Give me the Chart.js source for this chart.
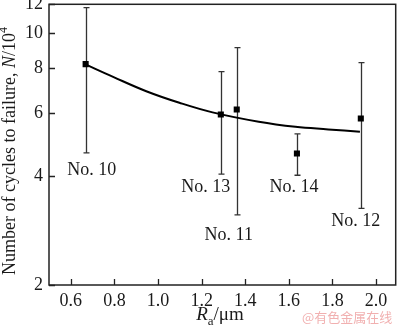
<!DOCTYPE html>
<html>
<head>
<meta charset="utf-8">
<script src="https://cdn.jsdelivr.net/npm/chart.js@4/dist/chart.umd.min.js"></script>
<style>
  html, body { margin: 0; padding: 0; background: #fff; }
  canvas { display: block; }
</style>
</head>
<body>
<canvas id="fatigue" width="400" height="327"></canvas>
<script>
// surface roughness Ra (um) and mean fatigue life (x 10^4 cycles)
var roughness = [0.668, 1.288, 1.361, 1.637, 1.930];
var cycles = [8.19, 5.94, 6.13, 4.63, 5.79];
var cyclesHigh = [11.75, 7.81, 9.10, 5.25, 8.27];
var cyclesLow = [4.65, 4.06, 3.13, 4.03, 3.26];
var specimens = ['No. 10', 'No. 13', 'No. 11', 'No. 14', 'No. 12'];

// fitted trend line
var fitRoughness = [0.665, 0.794, 0.946, 1.098, 1.250, 1.462, 1.630, 1.781, 1.926];
var fitCycles = [8.19, 7.55, 6.89, 6.40, 6.02, 5.67, 5.49, 5.40, 5.32];

var xTicks = [0.6, 0.8, 1.0, 1.2, 1.4, 1.6, 1.8, 2.0];
var yTicks = [2, 4, 6, 8, 10, 12];

// label placement, px from the point x and the lower whisker end
var labelOffsets = [[6, 17], [-15, 13], [-8, 20], [-3, 12], [-5, 13]];

var SERIF = '"Liberation Serif", "Times New Roman", serif';
var INK = '#1a1a1a';

function pairs(xs, ys) {
    var out = [], i;
    for (i = 0; i < xs.length; i += 1) {
        out.push({x: xs[i], y: ys[i]});
    }
    return out;
}

// draws runs of [text, style] one after another, style: '', 'i', 'sub', 'sup'
function drawRuns(ctx, runs, x, y, size) {
    var i, w = 0, cur;
    function fontFor(style) {
        var s = (style === 'sub' || style === 'sup') ? Math.round(size * 0.68) : size;
        return (style === 'i' ? 'italic ' : '') + s + 'px ' + SERIF;
    }
    for (i = 0; i < runs.length; i += 1) {
        ctx.font = fontFor(runs[i][1]);
        w += ctx.measureText(runs[i][0]).width;
    }
    cur = x - w / 2;
    for (i = 0; i < runs.length; i += 1) {
        var style = runs[i][1];
        var dy = style === 'sub' ? size * 0.28 : (style === 'sup' ? -size * 0.42 : 0);
        ctx.font = fontFor(style);
        ctx.fillText(runs[i][0], cur, y + dy);
        cur += ctx.measureText(runs[i][0]).width;
    }
}

// keep the plot box fixed: no extra room for overhanging tick labels
function fixBox(size) {
    return function (scale) {
        if (scale.isHorizontal()) {
            scale.height = size;
        } else {
            scale.width = size;
        }
        scale.paddingTop = 0;
        scale.paddingBottom = 0;
        scale.paddingLeft = 0;
        scale.paddingRight = 0;
    };
}

var decorations = {
    id: 'decorations',
    beforeDatasetsDraw: function (chart) {
        var ctx = chart.ctx, xs = chart.scales.x, ys = chart.scales.y, i;
        ctx.save();
        ctx.strokeStyle = '#333';
        ctx.lineWidth = 1.3;
        for (i = 0; i < roughness.length; i += 1) {
            var px = Math.round(xs.getPixelForValue(roughness[i])) + 0.5;
            var top = ys.getPixelForValue(cyclesHigh[i]);
            var bot = ys.getPixelForValue(cyclesLow[i]);
            ctx.beginPath();
            ctx.moveTo(px, top);
            ctx.lineTo(px, bot);
            ctx.moveTo(px - 3, top);
            ctx.lineTo(px + 3, top);
            ctx.moveTo(px - 3, bot);
            ctx.lineTo(px + 3, bot);
            ctx.stroke();
        }
        ctx.restore();
    },
    afterDraw: function (chart) {
        var ctx = chart.ctx, a = chart.chartArea;
        var xs = chart.scales.x, ys = chart.scales.y, i;
        ctx.save();

        // frame and inward ticks
        ctx.strokeStyle = '#222';
        ctx.lineWidth = 1.5;
        ctx.strokeRect(a.left, a.top, a.right - a.left, a.bottom - a.top);
        ctx.lineWidth = 1.3;
        ctx.beginPath();
        for (i = 0; i < xTicks.length; i += 1) {
            var tx = Math.round(xs.getPixelForValue(xTicks[i])) + 0.5;
            ctx.moveTo(tx, a.bottom);
            ctx.lineTo(tx, a.bottom - 6);
        }
        for (i = 0; i < yTicks.length; i += 1) {
            var ty = Math.round(ys.getPixelForValue(yTicks[i])) + 0.5;
            ctx.moveTo(a.left, ty);
            ctx.lineTo(a.left + 6, ty);
        }
        ctx.stroke();

        // specimen labels
        ctx.fillStyle = INK;
        ctx.font = '18px ' + SERIF;
        ctx.textAlign = 'center';
        ctx.textBaseline = 'middle';
        for (i = 0; i < specimens.length; i += 1) {
            var lx = xs.getPixelForValue(roughness[i]) + labelOffsets[i][0];
            var ly = ys.getPixelForValue(cyclesLow[i]) + labelOffsets[i][1];
            ctx.fillText(specimens[i], lx, ly);
        }

        // axis titles
        ctx.textAlign = 'left';
        ctx.textBaseline = 'alphabetic';
        drawRuns(ctx, [['R', 'i'], ['a', 'sub'], ['/\u03bcm', '']], 220, 320, 19);

        ctx.save();
        ctx.translate(14.5, 151);
        ctx.rotate(-Math.PI / 2);
        drawRuns(ctx, [['Number of cycles to failure, ', ''], ['N', 'i'], ['/10', ''], ['4', 'sup']], 0, 0, 18);
        ctx.restore();

        // site mark
        ctx.fillStyle = 'rgba(236, 150, 150, 0.75)';
        ctx.font = '13px "Noto Sans CJK SC", sans-serif';
        ctx.textBaseline = 'middle';
        ctx.fillText('@有色金属在线', 302, 317);

        ctx.restore();
    }
};

new Chart(document.getElementById('fatigue').getContext('2d'), {
    type: 'scatter',
    data: {
        datasets: [{
            type: 'line',
            data: pairs(fitRoughness, fitCycles),
            borderColor: '#000',
            borderWidth: 2,
            pointRadius: 0,
            fill: false,
            tension: 0.4
        }, {
            data: pairs(roughness, cycles),
            pointStyle: 'rect',
            pointRadius: 4.3,
            backgroundColor: '#000',
            borderColor: '#000',
            borderWidth: 0
        }]
    },
    options: {
        responsive: false,
        animation: false,
        devicePixelRatio: 1,
        layout: {padding: {top: 4, right: 2, left: 0, bottom: 0}},
        plugins: {legend: {display: false}, tooltip: {enabled: false}},
        scales: {
            x: {
                type: 'linear',
                min: 0.5,
                max: 2.09,
                grid: {display: false, drawTicks: false},
                border: {display: false},
                afterBuildTicks: function (scale) {
                    scale.ticks = xTicks.map(function (v) { return {value: v}; });
                },
                afterFit: fixBox(42),
                ticks: {
                    color: INK,
                    padding: 5,
                    maxRotation: 0,
                    autoSkip: false,
                    font: {family: SERIF, size: 18},
                    callback: function (v) { return Number(v).toFixed(1); }
                }
            },
            y: {
                type: 'logarithmic',
                min: 2,
                max: 12,
                grid: {display: false, drawTicks: false},
                border: {display: false},
                afterBuildTicks: function (scale) {
                    scale.ticks = yTicks.map(function (v) { return {value: v}; });
                },
                afterFit: fixBox(49),
                ticks: {
                    color: INK,
                    padding: 6,
                    autoSkip: false,
                    font: {family: SERIF, size: 18},
                    callback: function (v) { return String(v); }
                }
            }
        }
    },
    plugins: [decorations]
});
</script>
</body>
</html>
